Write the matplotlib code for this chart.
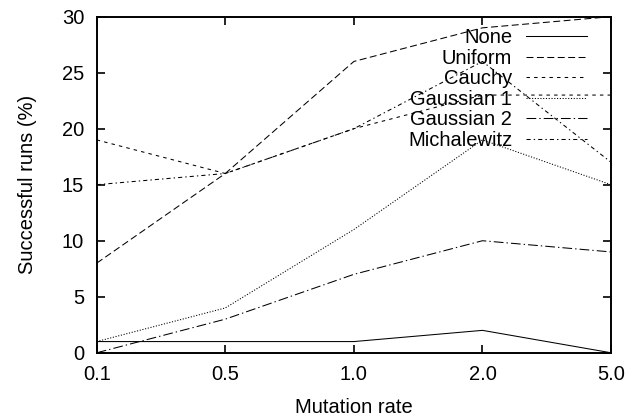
import matplotlib
matplotlib.use("Agg")
import matplotlib.pyplot as plt

plt.rcParams['font.family'] = ['Liberation Sans', 'DejaVu Sans']
plt.rcParams['lines.scale_dashes'] = False

rates = ["0.1", "0.5", "1.0", "2.0", "5.0"]
none_vals = [1, 1, 1, 2, 0]
uniform_vals = [8, 16, 26, 29, 30]
cauchy_vals = [19, 16, 20, 23, 23]
gauss1_vals = [1, 4, 11, 19, 15]
gauss2_vals = [0, 3, 7, 10, 9]
michal_vals = [15, 16, 20, 26, 17]
y_ticks = [0, 5, 10, 15, 20, 25, 30]

series = [
    ("None", none_vals, None),
    ("Uniform", uniform_vals, (0, (5, 2.5))),
    ("Cauchy", cauchy_vals, (0, (2.5, 3))),
    ("Gaussian 1", gauss1_vals, (0, (0.8, 1.2))),
    ("Gaussian 2", gauss2_vals, (0, (7, 2.2, 1, 2.2))),
    ("Michalewitz", michal_vals, (0, (3, 2.2, 1, 2.2))),
]

FS = 14.5
fig = plt.figure(figsize=(6.28, 4.16), dpi=100)
ax = fig.add_axes([0.154, 0.152, 0.819, 0.808])
x = list(range(len(rates)))
for name, vals, ls in series:
    if ls is None:
        ax.plot(x, vals, color='black', lw=0.75, linestyle='-', label=name)
    else:
        ax.plot(x, vals, color='black', lw=0.75, linestyle=ls, label=name)

ax.set_xlim(0, len(rates) - 1)
ax.set_ylim(0, 30)
ax.set_xticks(x)
ax.set_xticklabels(rates)
ax.set_yticks(y_ticks)
ax.tick_params(direction='in', length=6, width=1.2, top=True, right=True,
               labelsize=FS, pad=9, color='black')
for s in ax.spines.values():
    s.set_linewidth(1.4)
ax.set_xlabel("Mutation rate", fontsize=FS, labelpad=10)
ax.set_ylabel("Successful runs (%)", fontsize=FS, labelpad=18)

leg = ax.legend(loc='upper right', frameon=False, markerfirst=False, fontsize=FS,
                handlelength=3.0, handletextpad=0.7, labelspacing=0.075,
                borderaxespad=0.0, borderpad=0.0, bbox_to_anchor=(0.953, 0.965))
fig.savefig("out.png", dpi=100)
